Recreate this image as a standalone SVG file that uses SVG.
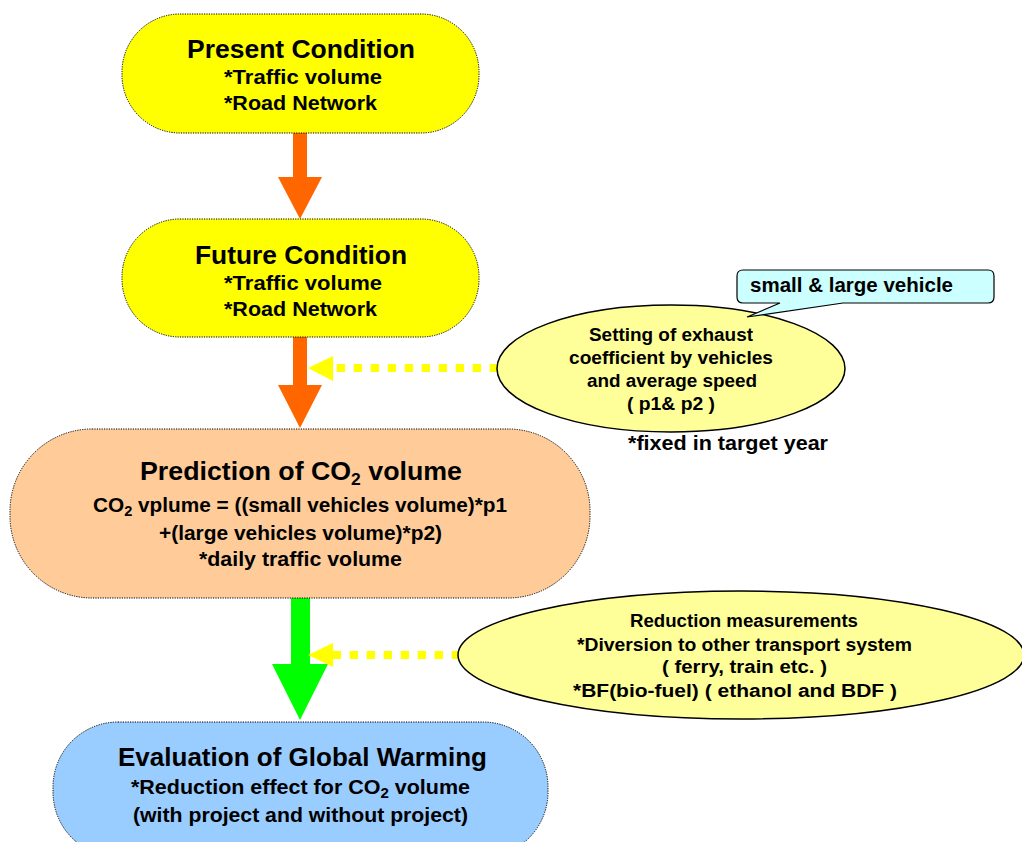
<svg xmlns="http://www.w3.org/2000/svg" width="1022" height="842" viewBox="0 0 1022 842">
<style>
text{font-family:"Liberation Sans",Arial,sans-serif;font-weight:bold;fill:#000;text-anchor:middle}
.node{stroke:#000;stroke-width:1;stroke-dasharray:1.2 1.2}
.t1{font-size:26px}
.t2{font-size:20px}
.t3{font-size:17.5px}
.ell{stroke:#000;stroke-width:1.5}
.dash{stroke:#FFFF00;stroke-width:8;stroke-dasharray:8.3 8.7;fill:none}
</style>
<rect width="1022" height="842" fill="#fff"/>
<g id="connectors">
  <polygon points="293,133 307,133 307,177 322,177 300,219 278,177 293,177" fill="#FF6600"/>
  <polygon points="293,337 307,337 307,385 322,385 300,428 278,385 293,385" fill="#FF6600"/>
  <polygon points="291,598 310,598 310,664 328,664 300,720 272,664 291,664" fill="#00FF00"/>
  <line class="dash" x1="498" y1="368" x2="333" y2="368"/>
  <polygon points="308,368 333,356 333,381" fill="#FFFF00"/>
  <line class="dash" x1="460" y1="655" x2="333" y2="655"/>
  <polygon points="308,655 333,643 333,667" fill="#FFFF00"/>
</g>
<g id="present">
  <rect class="node" x="122" y="14" width="357" height="119" rx="58" ry="58" fill="#FFFF00"/>
  <text class="t1" x="301" y="58" textLength="228" lengthAdjust="spacingAndGlyphs">Present Condition</text>
  <text class="t2" x="303" y="84" textLength="158" lengthAdjust="spacingAndGlyphs">*Traffic volume</text>
  <text class="t2" x="300.5" y="110" textLength="153" lengthAdjust="spacingAndGlyphs">*Road Network</text>
</g>
<g id="future">
  <rect class="node" x="122" y="219" width="357" height="118" rx="58" ry="58" fill="#FFFF00"/>
  <text class="t1" x="301" y="264" textLength="212" lengthAdjust="spacingAndGlyphs">Future Condition</text>
  <text class="t2" x="303" y="290" textLength="158" lengthAdjust="spacingAndGlyphs">*Traffic volume</text>
  <text class="t2" x="300.5" y="316" textLength="153" lengthAdjust="spacingAndGlyphs">*Road Network</text>
</g>
<g id="prediction">
  <rect class="node" x="10" y="429" width="580" height="169" rx="82" ry="82" fill="#FFCC99"/>
  <text class="t1" x="301" y="480" textLength="322" lengthAdjust="spacingAndGlyphs">Prediction of CO<tspan font-size="17" dy="5">2</tspan><tspan dy="-5"> volume</tspan></text>
  <text class="t2" x="300" y="512" textLength="414" lengthAdjust="spacingAndGlyphs">CO<tspan font-size="14" dy="4">2</tspan><tspan dy="-4"> vplume = ((small vehicles volume)*p1</tspan></text>
  <text class="t2" x="300.5" y="540" textLength="283" lengthAdjust="spacingAndGlyphs">+(large vehicles volume)*p2)</text>
  <text class="t2" x="300.5" y="566" textLength="203" lengthAdjust="spacingAndGlyphs">*daily traffic volume</text>
</g>
<g id="evaluation">
  <rect class="node" x="53" y="722" width="495" height="135" rx="65" ry="65" fill="#99CCFF"/>
  <text class="t1" x="302.5" y="766" textLength="369" lengthAdjust="spacingAndGlyphs">Evaluation of Global Warming</text>
  <text class="t2" x="300.5" y="794" textLength="339" lengthAdjust="spacingAndGlyphs">*Reduction effect for CO<tspan font-size="14" dy="4">2</tspan><tspan dy="-4"> volume</tspan></text>
  <text class="t2" x="300.5" y="822" textLength="335" lengthAdjust="spacingAndGlyphs">(with project and without project)</text>
</g>
<g id="exhaust">
  <ellipse class="ell" cx="671" cy="368.5" rx="174" ry="63.5" fill="#FFFF99"/>
  <text class="t3" x="671" y="341" textLength="164" lengthAdjust="spacingAndGlyphs">Setting of exhaust</text>
  <text class="t3" x="671" y="364" textLength="204" lengthAdjust="spacingAndGlyphs">coefficient by vehicles</text>
  <text class="t3" x="672" y="387" textLength="170" lengthAdjust="spacingAndGlyphs">and average speed</text>
  <text class="t3" x="671" y="410" textLength="88" lengthAdjust="spacingAndGlyphs">( p1&amp; p2 )</text>
</g>
<g id="vehicle-callout">
  <path d="M743,270 H988 Q994,270 994,276 V297 Q994,303 988,303 H843 L747,317 L780,303 H743 Q737,303 737,297 V276 Q737,270 743,270 Z" fill="#CCFFFF" stroke="#000" stroke-width="1.2"/>
  <text class="t2" x="851.5" y="292" font-size="19" textLength="203" lengthAdjust="spacingAndGlyphs">small &amp; large vehicle</text>
</g>
<g id="fixed-note">
  <text class="t2" x="728" y="450" font-size="19" textLength="200" lengthAdjust="spacingAndGlyphs">*fixed in target year</text>
</g>
<g id="reduction">
  <ellipse class="ell" cx="741" cy="655" rx="283" ry="64" fill="#FFFF99"/>
  <text class="t3" x="744" y="627" textLength="228" lengthAdjust="spacingAndGlyphs">Reduction measurements</text>
  <text class="t3" x="744.5" y="651" textLength="335" lengthAdjust="spacingAndGlyphs">*Diversion to other transport system</text>
  <text class="t3" x="744.5" y="673" textLength="165" lengthAdjust="spacingAndGlyphs">( ferry, train etc. )</text>
  <text class="t3" x="735" y="697" textLength="324" lengthAdjust="spacingAndGlyphs">*BF(bio-fuel) ( ethanol and BDF )</text>
</g>
</svg>
